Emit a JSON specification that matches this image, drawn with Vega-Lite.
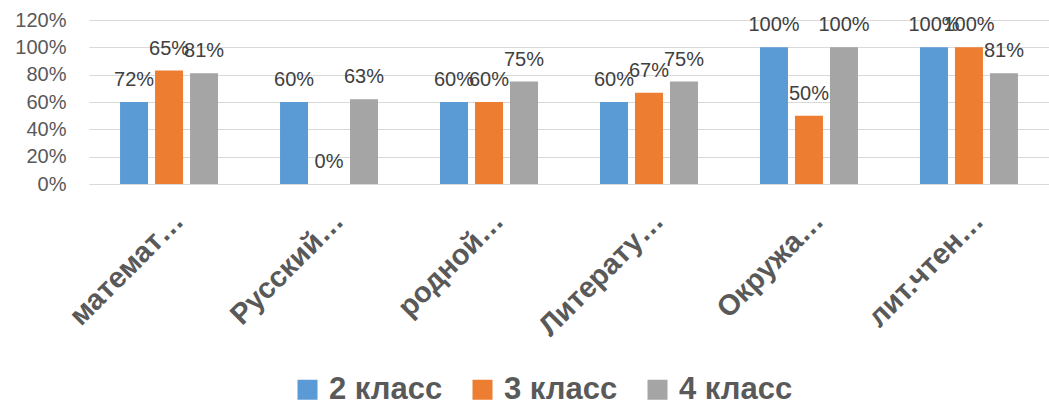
{
  "$schema": "https://vega.github.io/schema/vega-lite/v6.json",
  "width": 960,
  "height": 164,
  "autosize": "none",
  "padding": {"left": 89, "top": 20, "right": 0, "bottom": 222},
  "background": "white",
  "config": {"view": {"stroke": null}, "font": "Liberation Sans"},
  "data": {
    "values": [
      {"subject": "математ…", "class": "2 класс", "value": 0.60, "label": "72%"},
      {"subject": "математ…", "class": "3 класс", "value": 0.83, "label": "65%"},
      {"subject": "математ…", "class": "4 класс", "value": 0.81, "label": "81%"},
      {"subject": "Русский…", "class": "2 класс", "value": 0.60, "label": "60%"},
      {"subject": "Русский…", "class": "3 класс", "value": 0.0, "label": "0%"},
      {"subject": "Русский…", "class": "4 класс", "value": 0.62, "label": "63%"},
      {"subject": "родной…", "class": "2 класс", "value": 0.60, "label": "60%"},
      {"subject": "родной…", "class": "3 класс", "value": 0.60, "label": "60%"},
      {"subject": "родной…", "class": "4 класс", "value": 0.75, "label": "75%"},
      {"subject": "Литерату…", "class": "2 класс", "value": 0.60, "label": "60%"},
      {"subject": "Литерату…", "class": "3 класс", "value": 0.667, "label": "67%"},
      {"subject": "Литерату…", "class": "4 класс", "value": 0.75, "label": "75%"},
      {"subject": "Окружа…", "class": "2 класс", "value": 1.0, "label": "100%"},
      {"subject": "Окружа…", "class": "3 класс", "value": 0.5, "label": "50%"},
      {"subject": "Окружа…", "class": "4 класс", "value": 1.0, "label": "100%"},
      {"subject": "лит.чтен…", "class": "2 класс", "value": 1.0, "label": "100%"},
      {"subject": "лит.чтен…", "class": "3 класс", "value": 1.0, "label": "100%"},
      {"subject": "лит.чтен…", "class": "4 класс", "value": 0.81, "label": "81%"}
    ]
  },
  "encoding": {
    "x": {
      "field": "subject", "type": "nominal", "sort": null,
      "scale": {"paddingInner": 0.3875, "paddingOuter": 0.194},
      "axis": {
        "title": null, "labelAngle": -45, "labelFontSize": 29, "labelFontWeight": "bold",
        "labelColor": "#595959", "domain": false, "ticks": false, "tickSize": 0,
        "labelPadding": 22, "labelLimit": 400
      }
    },
    "xOffset": {
      "field": "class", "type": "nominal", "sort": null,
      "scale": {"paddingInner": 0.2, "paddingOuter": 0}
    },
    "y": {
      "field": "value", "type": "quantitative",
      "scale": {"domain": [0, 1.2], "nice": false},
      "axis": {
        "title": null, "format": ".0%", "values": [0, 0.2, 0.4, 0.6, 0.8, 1.0, 1.2],
        "domain": false, "ticks": false, "tickSize": 0, "labelPadding": 23,
        "labelFontSize": 20, "labelColor": "#595959",
        "gridColor": "#d9d9d9", "gridWidth": 1.2
      }
    }
  },
  "layer": [
    {
      "mark": {"type": "bar"},
      "encoding": {
        "color": {
          "field": "class", "type": "nominal",
          "scale": {"domain": ["2 класс", "3 класс", "4 класс"], "range": ["#5B9BD5", "#ED7D31", "#A5A5A5"]},
          "legend": {
            "orient": "none", "legendX": 203, "legendY": 354, "direction": "horizontal",
            "title": null, "symbolType": "square", "symbolSize": 400, "symbolStrokeWidth": 0,
            "labelFontSize": 31, "labelFontWeight": "bold", "labelColor": "#595959",
            "labelOffset": 6, "columnPadding": 24, "padding": 0, "labelLimit": 400
          }
        }
      }
    },
    {
      "mark": {"type": "text", "dy": -16, "baseline": "alphabetic", "fontSize": 20, "color": "#404040"},
      "encoding": {"text": {"field": "label"}}
    }
  ]
}
